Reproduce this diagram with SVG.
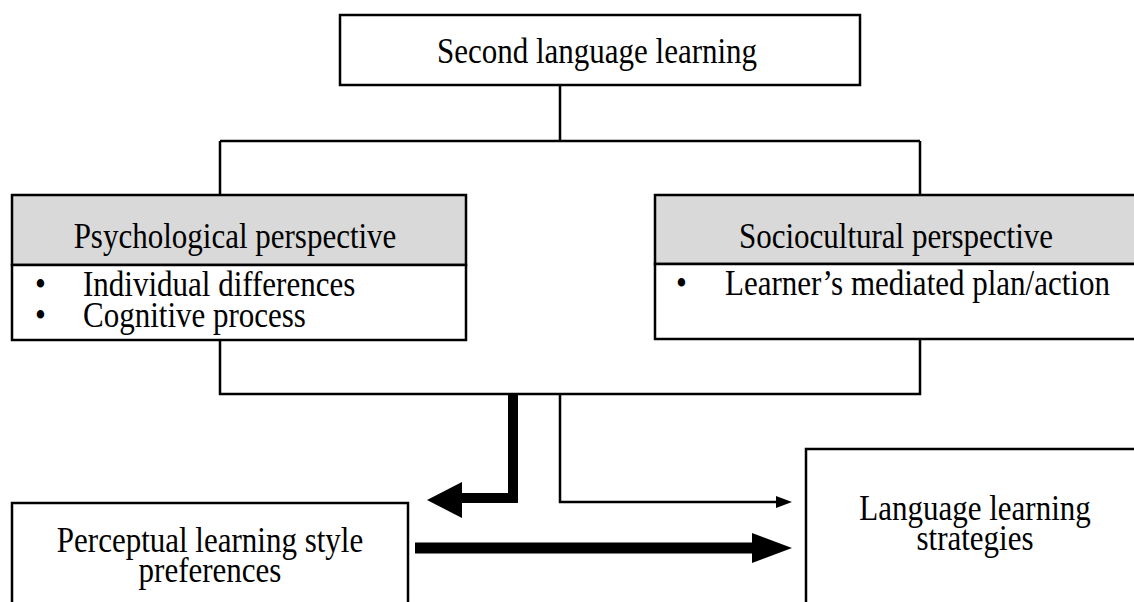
<svg xmlns="http://www.w3.org/2000/svg" width="1134" height="602" viewBox="0 0 1134 602">
<style>
.box{fill:#fff;stroke:#000;stroke-width:2.5}
.hd{fill:#d9d9d9;stroke:#000;stroke-width:2.5}
.ln{fill:none;stroke:#000;stroke-width:2.5}
.t{font-family:"Liberation Serif","Times New Roman",serif;font-size:31px;fill:#000}
.c{text-anchor:middle}
</style>
<rect width="1134" height="602" fill="#fff"/>
<g id="connectors">
<path class="ln" d="M560 85V141M220 141H920M220 141V195M920 141V195"/>
<path class="ln" d="M220 340V394H920V340"/>
<path d="M513 394V498H462" fill="none" stroke="#000" stroke-width="10"/>
<polygon points="427,500 462,482 462,518" fill="#000"/>
<path class="ln" d="M560 394V502H778"/>
<polygon points="792,502 776,496 776,508" fill="#000"/>
<path d="M415 548H754" fill="none" stroke="#000" stroke-width="11"/>
<polygon points="792,548 752,533 752,563" fill="#000"/>
</g>
<g id="top">
<rect class="box" x="340" y="15" width="520" height="70"/>
<text class="t c" transform="translate(597 63) scale(1 1.16)">Second language learning</text>
</g>
<g id="psych">
<rect class="hd" x="12" y="195" width="454" height="70"/>
<rect class="box" x="12" y="265" width="454" height="75"/>
<text class="t c" transform="translate(235 248) scale(1 1.16)">Psychological perspective</text>
<text class="t" transform="translate(35 296) scale(1 1.16)">•</text>
<text class="t" transform="translate(83 296) scale(1 1.16)">Individual differences</text>
<text class="t" transform="translate(35 327) scale(1 1.16)">•</text>
<text class="t" transform="translate(83 327) scale(1 1.16)">Cognitive process</text>
</g>
<g id="socio">
<rect class="hd" x="655" y="195" width="490" height="69"/>
<rect class="box" x="655" y="264" width="490" height="75"/>
<text class="t c" transform="translate(896 248) scale(1 1.16)">Sociocultural perspective</text>
<text class="t" transform="translate(676 295) scale(1 1.16)">•</text>
<text class="t" transform="translate(725 295) scale(1 1.16)">Learner’s mediated plan/action</text>
</g>
<g id="perceptual">
<rect class="box" x="12" y="503" width="396" height="120"/>
<text class="t c" transform="translate(210 552) scale(1 1.16)">Perceptual learning style</text>
<text class="t c" transform="translate(210 582) scale(1 1.16)">preferences</text>
</g>
<g id="strategies">
<rect class="box" x="806" y="449" width="340" height="180"/>
<text class="t c" transform="translate(975 520) scale(1 1.16)">Language learning</text>
<text class="t c" transform="translate(975 550) scale(1 1.16)">strategies</text>
</g>
</svg>
